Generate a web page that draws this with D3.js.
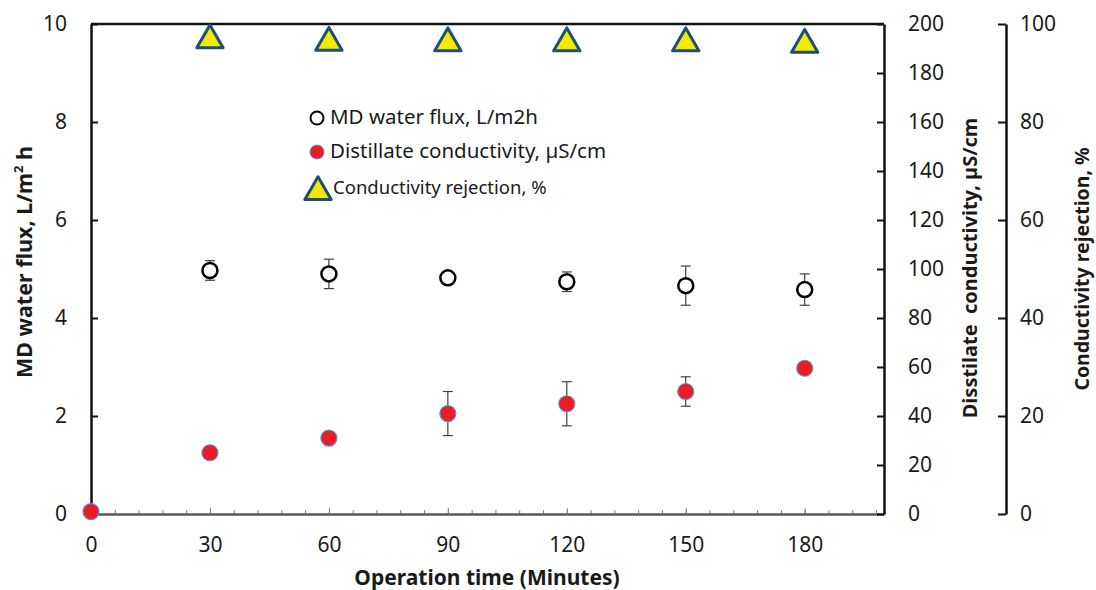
<!DOCTYPE html>
<html>
<head>
<meta charset="utf-8">
<script src="https://cdn.jsdelivr.net/npm/d3@7"></script>
<style>
  body { margin:0; background:#fff }
  svg text { font-family:"Noto Sans", sans-serif; fill:#1a1a1a }
  .title { font-weight:bold }
</style>
</head>
<body>
<div id="chart"></div>
<script>
// data
var fluxTime  = [30, 60, 90, 120, 150, 180]
var flux      = [4.97, 4.90, 4.82, 4.74, 4.66, 4.58]
var fluxErr   = [0.2, 0.3, 0.04, 0.2, 0.4, 0.32]

var condTime  = [0, 30, 60, 90, 120, 150, 180]
var cond      = [1, 25, 31, 41, 45, 50, 59.5]
var condErr   = [0, 0, 0, 9, 9, 6, 0]

var rejTime   = [30, 60, 90, 120, 150, 180]
var rejection = [96.7, 96.2, 96.1, 96.1, 96.1, 95.8]

var xTicks    = [0, 30, 60, 90, 120, 150, 180]
var fluxTicks = [0, 2, 4, 6, 8, 10]
var condTicks = [0, 20, 40, 60, 80, 100, 120, 140, 160, 180, 200]
var rejTicks  = [0, 20, 40, 60, 80, 100]

var legendItems = ['MD water flux, L/m2h', 'Distillate conductivity, \u00b5S/cm', 'Conductivity rejection, %']

var W = 1096, H = 590
var m = { top:24, right:212, bottom:76, left:91 }

var svg = d3.select('#chart').append('svg')
    .attr('width', W)
    .attr('height', H)

var x  = d3.scaleLinear().domain([0, 200]).range([m.left, W-m.right])
var yL = d3.scaleLinear().domain([0, 10]).range([H-m.bottom, m.top])
var yC = d3.scaleLinear().domain([0, 200]).range([H-m.bottom, m.top])
var yR = d3.scaleLinear().domain([0, 100]).range([H-m.bottom, m.top])
var rAxisX = 1006

// frame top line
svg.append('line')
    .attr('x1', x(0)).attr('x2', x(200))
    .attr('y1', m.top).attr('y2', m.top)
    .attr('stroke', '#111').attr('stroke-width', 2.5)

// x axis: minor ticks then major
var gxMinor = svg.append('g')
    .attr('transform', 'translate(0,' + (H-m.bottom) + ')')
    .call(d3.axisBottom(x).tickValues(d3.range(6, 200, 6)).tickSize(-4).tickSizeOuter(0).tickFormat(''))
gxMinor.select('.domain').remove()
gxMinor.selectAll('line').attr('stroke', '#7f7f7f')

var gx = svg.append('g')
    .attr('transform', 'translate(0,' + (H-m.bottom) + ')')
    .call(d3.axisBottom(x).tickValues(xTicks).tickSize(-6).tickSizeOuter(0).tickPadding(23))
gx.select('.domain').attr('stroke', '#595959').attr('stroke-width', 2.5)
gx.selectAll('line').attr('stroke', '#7f7f7f')

// left axis
var gl = svg.append('g')
    .attr('transform', 'translate(' + m.left + ',0)')
    .call(d3.axisLeft(yL).tickValues(fluxTicks).tickSize(-7).tickSizeOuter(0).tickPadding(24))
gl.select('.domain').attr('stroke', '#111').attr('stroke-width', 2.5)
gl.selectAll('line').attr('stroke', '#111').attr('stroke-width', 2)

// right axis (conductivity)
var gc = svg.append('g')
    .attr('transform', 'translate(' + (W-m.right) + ',0)')
    .call(d3.axisRight(yC).tickValues(condTicks).tickSize(-7).tickSizeOuter(0).tickPadding(24))
gc.select('.domain').attr('stroke', '#111').attr('stroke-width', 2.5)
gc.selectAll('line').attr('stroke', '#111').attr('stroke-width', 2)

// far right axis (rejection)
var gr = svg.append('g')
    .attr('transform', 'translate(' + rAxisX + ',0)')
    .call(d3.axisRight(yR).tickValues(rejTicks).tickSize(-8).tickSizeOuter(0).tickPadding(14))
gr.select('.domain').attr('stroke', '#111').attr('stroke-width', 2.5)
gr.selectAll('line').attr('stroke', '#111').attr('stroke-width', 2)

svg.selectAll('.tick text').attr('fill', '#1a1a1a').style('font-size', '21px')

// axis titles
svg.append('text').attr('class', 'title')
    .attr('x', 487).attr('y', 585)
    .attr('text-anchor', 'middle')
    .style('font-size', '21px')
    .text('Operation time (Minutes)')

var tl = svg.append('text').attr('class', 'title')
    .attr('transform', 'translate(32,262) rotate(-90)')
    .attr('text-anchor', 'middle')
    .style('font-size', '21.5px')
tl.append('tspan').text('MD water flux, L/m')
tl.append('tspan').attr('font-size', '13px').attr('dy', -9).text('2')
tl.append('tspan').attr('dy', 9).text(' h')

svg.append('text').attr('class', 'title')
    .attr('transform', 'translate(977,268) rotate(-90)')
    .attr('text-anchor', 'middle')
    .attr('xml:space', 'preserve')
    .style('font-size', '20px')
    .text('Disstilate  conductivity, \u00b5S/cm')

svg.append('text').attr('class', 'title')
    .attr('transform', 'translate(1089,269) rotate(-90)')
    .attr('text-anchor', 'middle')
    .style('font-size', '19.5px')
    .text('Conductivity rejection, %')

// error bars
function errBars(times, vals, errs, y) {
    var g = svg.append('g')
    times.forEach(function(t, i) {
        if (!errs[i]) return
        var cx = x(t), y0 = y(vals[i]-errs[i]), y1 = y(vals[i]+errs[i])
        g.append('line').attr('x1', cx).attr('x2', cx).attr('y1', y0).attr('y2', y1)
        g.append('line').attr('x1', cx-5).attr('x2', cx+5).attr('y1', y0).attr('y2', y0)
        g.append('line').attr('x1', cx-5).attr('x2', cx+5).attr('y1', y1).attr('y2', y1)
    })
    g.selectAll('line').attr('stroke', '#404040').attr('stroke-width', 1.2)
}
errBars(fluxTime, flux, fluxErr, yL)
errBars(condTime, cond, condErr, yC)

var tri = d3.symbol().type(d3.symbolTriangle).size(300)

// flux markers
svg.append('g').selectAll('circle')
    .data(fluxTime)
    .join('circle')
    .attr('cx', d=> x(d))
    .attr('cy', (d, i)=> yL(flux[i]))
    .attr('r', 7.5)
    .attr('fill', '#fff')
    .attr('stroke', '#000')
    .attr('stroke-width', 2.5)

// conductivity markers
svg.append('g').selectAll('circle')
    .data(condTime)
    .join('circle')
    .attr('cx', d=> x(d))
    .attr('cy', (d, i)=> yC(cond[i]))
    .attr('r', 8)
    .attr('fill', '#ed1c24')
    .attr('stroke', '#5b8fd0')
    .attr('stroke-width', 1.2)

// rejection markers
svg.append('g').selectAll('path')
    .data(rejTime)
    .join('path')
    .attr('d', tri)
    .attr('transform', (d, i)=> 'translate(' + x(d) + ',' + yR(rejection[i]) + ')')
    .attr('fill', '#f2ea00')
    .attr('stroke', '#1f4e79')
    .attr('stroke-width', 3)
    .attr('stroke-linejoin', 'round')

// legend
var lg = svg.append('g')
lg.append('circle').attr('cx', 317).attr('cy', 118).attr('r', 6.5)
    .attr('fill', '#fff').attr('stroke', '#000').attr('stroke-width', 2)
lg.append('circle').attr('cx', 317).attr('cy', 152).attr('r', 7)
    .attr('fill', '#ed1c24').attr('stroke', '#5b8fd0').attr('stroke-width', 1)
lg.append('path').attr('d', tri)
    .attr('transform', 'translate(318,192)')
    .attr('fill', '#f2ea00').attr('stroke', '#1f4e79').attr('stroke-width', 3).attr('stroke-linejoin', 'round')

lg.selectAll('text')
    .data(legendItems)
    .join('text')
    .attr('x', (d, i)=> i == 2 ? 333 : 330)
    .attr('y', (d, i)=> [124, 158, 194][i])
    .style('font-size', (d, i)=> i == 2 ? '18.5px' : '20.5px')
    .text(d=> d)
</script>
</body>
</html>
